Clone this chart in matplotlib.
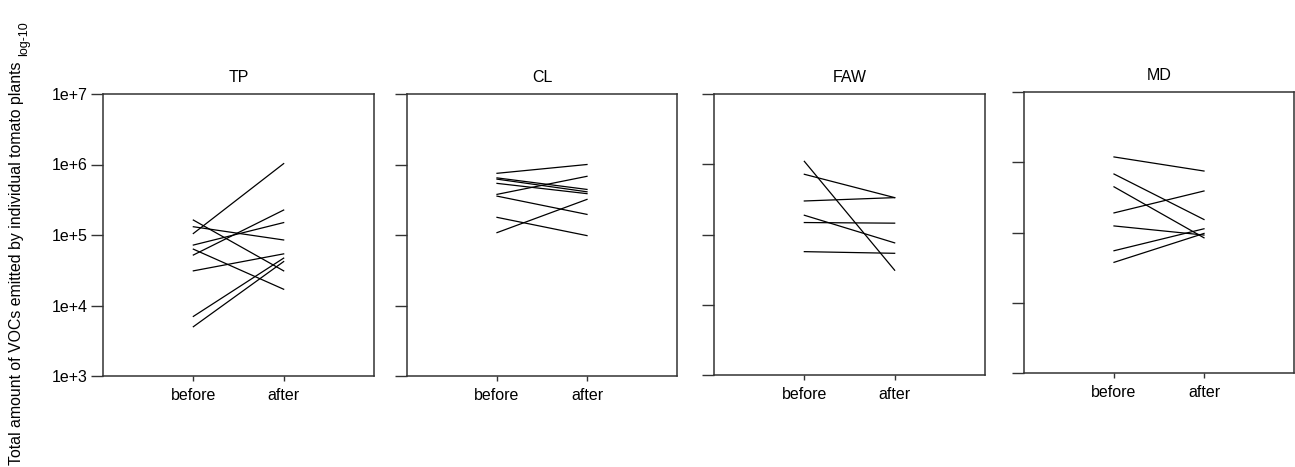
import matplotlib
matplotlib.use("Agg")
import matplotlib.pyplot as plt

plt.rcParams['font.family'] = ['Liberation Sans', 'DejaVu Sans']

W, H = 1295, 467

groups = ['TP', 'CL', 'FAW', 'MD']
phases = ['before', 'after']
yticks = [1e3, 1e4, 1e5, 1e6, 1e7]
ytick_labels = ['1e+3', '1e+4', '1e+5', '1e+6', '1e+7']

# total VOC amount per plant, before and after
tp_before = [1.05e5, 1.63e5, 1.31e5, 7.2e4, 5.2e4, 6.3e4, 3.1e4, 7.0e3, 5.0e3]
tp_after = [1.03e6, 3.1e4, 8.5e4, 1.5e5, 2.26e5, 1.7e4, 5.4e4, 4.7e4, 4.2e4]

cl_before = [7.5e5, 6.46e5, 6.2e5, 5.4e5, 3.77e5, 3.56e5, 1.78e5, 1.08e5]
cl_after = [1.0e6, 4.43e5, 4.1e5, 3.86e5, 6.8e5, 1.96e5, 9.8e4, 3.2e5]

faw_before = [1.1e6, 7.2e5, 3.0e5, 1.88e5, 1.48e5, 5.7e4]
faw_after = [3.1e4, 3.35e5, 3.35e5, 7.6e4, 1.45e5, 5.4e4]

md_before = [1.19e6, 6.8e5, 4.47e5, 1.9e5, 1.24e5, 5.5e4, 3.76e4]
md_after = [7.5e5, 1.53e5, 8.4e4, 3.9e5, 9.2e4, 1.13e5, 9.7e4]

data = {
    'TP': (tp_before, tp_after),
    'CL': (cl_before, cl_after),
    'FAW': (faw_before, faw_after),
    'MD': (md_before, md_after),
}

# panel boxes in pixels: left, right, top, bottom
boxes = {
    'TP': (103, 374, 94, 376),
    'CL': (407, 677, 94, 376),
    'FAW': (714, 985, 94, 375),
    'MD': (1024, 1294, 92, 373),
}

fig = plt.figure(figsize=(W / 100, H / 100), dpi=100)

for g in groups:
    x0, x1, top, bot = boxes[g]
    ax = fig.add_axes([x0 / W, 1 - bot / H, (x1 - x0) / W, (bot - top) / H])
    before, after = data[g]
    for b, a in zip(before, after):
        ax.plot([1, 2], [b, a], color='black', lw=0.9)
    ax.set_yscale('log')
    ax.set_ylim(1e3, 1e7)
    ax.set_xlim(0, 3)
    ax.set_yticks(yticks)
    ax.minorticks_off()
    ax.set_xticks([1, 2])
    ax.set_xticklabels(phases)
    if g == 'TP':
        ax.set_yticklabels(ytick_labels)
    else:
        ax.set_yticklabels([])
    for s in ax.spines.values():
        s.set_color('#333333')
        s.set_linewidth(1.1)
    ax.tick_params(axis='y', length=9, width=1.0, color='#333333', pad=2, labelsize=11.5)
    ax.tick_params(axis='x', length=3.5, width=1.0, color='#333333', pad=5, labelsize=11.5)
    ax.set_title(g, fontsize=11.5, pad=9)

lab = fig.text(17 / W, 1 - 465 / H,
               'Total amount of VOCs emitted by individual tomato plants',
               rotation=90, rotation_mode='anchor', ha='left', va='center', fontsize=11.4)
fig.canvas.draw()
ext = lab.get_window_extent(fig.canvas.get_renderer())
fig.text(24 / W, (ext.y1 + 5) / H, 'log-10',
         rotation=90, rotation_mode='anchor', ha='left', va='center', fontsize=9)

fig.savefig('out.png', dpi=100)
